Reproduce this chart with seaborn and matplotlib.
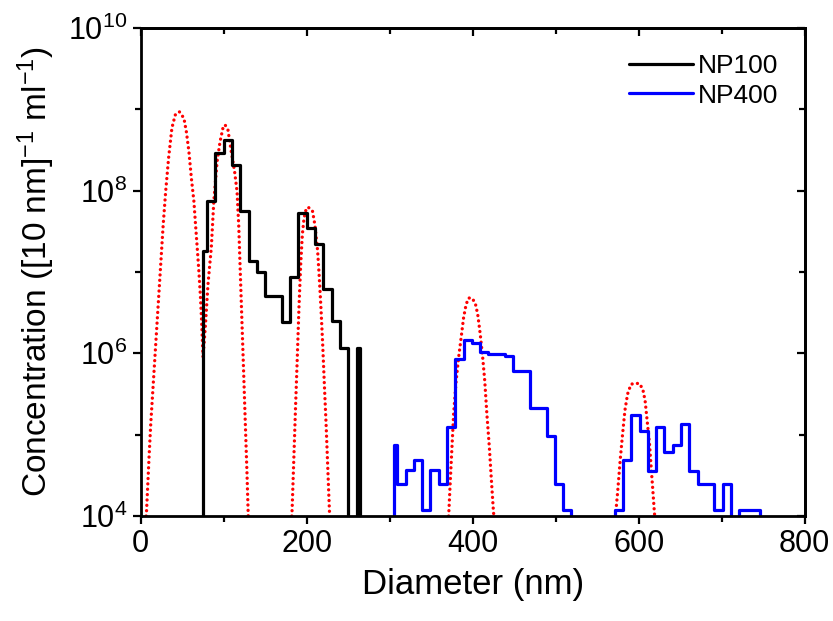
import numpy as np
import pandas as pd
import matplotlib
matplotlib.use("Agg")
import matplotlib.pyplot as plt
from matplotlib.ticker import FixedLocator, NullFormatter
import seaborn as sns

# NP100 histogram: bin edges (nm) and log10 concentration per bin (nan = empty bin)
np100_edges = [75, 80, 90, 100, 110, 120, 130, 140, 150, 170, 180, 190, 200,
               210, 220, 230, 240, 250, 260, 264]
np100_log = [7.26, 7.87, 8.46, 8.62, 8.32, 7.75, 7.14, 7.00, 6.71, 6.38, 6.94,
             7.72, 7.54, 7.35, 6.79, 6.40, 6.07, np.nan, 6.07]

# NP400 histogram
np400_edges = [305, 309, 319, 329, 339, 349, 359, 369, 379, 389, 399, 409, 419,
               439, 449, 469, 489, 499, 509, 519, 571, 581, 591, 601, 611, 621,
               631, 641, 651, 661, 671, 691, 701, 711, 721, 746]
np400_log = [4.87, 4.40, 4.56, 4.69, 4.08, 4.56, 4.40, 5.09, 5.93, 6.16, 6.13,
             6.02, 5.99, 5.97, 5.78, 5.33, 4.99, 4.40, 4.08, np.nan, 4.08, 4.69,
             5.24, 5.05, 4.55, 5.09, 4.79, 4.87, 5.13, 4.55, 4.40, 4.08, 4.40,
             np.nan, 4.08]

# red dotted reference distributions (nm, log10 conc)
ref1_d = [6.5, 7, 10, 12, 15, 18, 21, 24, 27, 30, 33.5, 37.5, 41.5, 46.5, 52, 55,
          58, 61, 64, 66, 68, 70, 72, 73.5, 75, 78, 81, 85, 88, 92, 95.5, 99,
          101.5, 105, 109, 113, 116, 118, 120, 122, 124, 126, 128, 129.5]
ref1_log = [4.0, 4.07, 4.73, 5.13, 5.62, 6.11, 6.60, 7.09, 7.58, 7.99, 8.40, 8.77,
            8.93, 8.97, 8.89, 8.72, 8.48, 8.15, 7.87, 7.58, 7.30, 7.01, 6.68, 6.35,
            5.95, 6.36, 6.85, 7.30, 7.87, 8.36, 8.60, 8.77, 8.81, 8.75, 8.48, 8.24,
            7.99, 7.58, 6.97, 6.36, 5.75, 5.13, 4.52, 4.0]
ref2_d = [182, 182.4, 184.5, 186.5, 188.6, 190.6, 192.7, 194.7, 196.7, 199.6,
          202.9, 206.9, 209.8, 213.1, 215.1, 217.1, 219.2, 221.2, 223.3, 225.3,
          227.3, 227.6]
ref2_log = [4.0, 4.09, 4.73, 5.34, 5.95, 6.56, 7.09, 7.46, 7.66, 7.79, 7.79, 7.75,
            7.58, 7.26, 6.93, 6.56, 6.11, 5.62, 5.13, 4.60, 4.07, 4.0]
ref3_d = [371, 373, 375, 377, 380, 383, 386, 389, 392, 395, 399, 403, 406, 409,
          412, 414.5, 417, 420, 422.5, 425, 425.5]
ref3_log = [4.0, 4.44, 4.85, 5.26, 5.66, 5.95, 6.19, 6.44, 6.60, 6.68, 6.68, 6.62,
            6.48, 6.24, 5.95, 5.66, 5.26, 4.85, 4.44, 4.05, 4.0]
ref4_d = [572, 574.5, 577.7, 580.6, 583.4, 586.6, 590.7, 594.7, 598.8, 600.8,
          604.9, 607.7, 610.1, 613, 615, 617, 619, 619.5]
ref4_log = [4.0, 4.28, 4.69, 5.01, 5.30, 5.50, 5.62, 5.63, 5.63, 5.63, 5.56, 5.42,
            5.18, 4.89, 4.60, 4.32, 4.03, 4.0]

x_ticks = [0, 200, 400, 600, 800]
x_minor = [100, 300, 500, 700]
y_ticks = [1e4, 1e6, 1e8, 1e10]
y_minor = [1e5, 1e7, 1e9]


def step_frame(edges, logs):
    # outline of a histogram, empty bins pushed below the axis
    conc = np.power(10.0, np.nan_to_num(np.array(logs, dtype=float), nan=3.0))
    x = np.repeat(edges, 2)
    y = np.concatenate([[1e3], np.repeat(conc, 2), [1e3]])
    return pd.DataFrame({"d": x, "c": y})


np100 = step_frame(np100_edges, np100_log)
np400 = step_frame(np400_edges, np400_log)

ref = pd.concat([
    pd.DataFrame({"d": d, "c": np.power(10.0, l), "seg": i})
    for i, (d, l) in enumerate([(ref1_d, ref1_log), (ref2_d, ref2_log),
                                (ref3_d, ref3_log), (ref4_d, ref4_log)])
])

sns.set_style("ticks")
plt.rcParams['font.family'] = ['Liberation Sans', 'DejaVu Sans']
plt.rcParams['mathtext.default'] = 'regular'
plt.rcParams['axes.linewidth'] = 2
for key in ['text.color', 'axes.labelcolor', 'axes.edgecolor', 'xtick.color', 'ytick.color']:
    plt.rcParams[key] = 'black'

fig, ax = plt.subplots(figsize=(8.33, 6.21), dpi=100)
fig.subplots_adjust(left=0.169, right=0.966, bottom=0.169, top=0.955)

sns.lineplot(data=ref, x="d", y="c", units="seg", estimator=None, sort=False,
             color="#ff0000", lw=2.4, ax=ax, legend=False,
             linestyle=(0, (0.01, 1.6)), dash_capstyle="round")
sns.lineplot(data=np100, x="d", y="c", estimator=None, sort=False,
             color="black", lw=2.3, ax=ax, label="NP100")
sns.lineplot(data=np400, x="d", y="c", estimator=None, sort=False,
             color="#0000ff", lw=2.3, ax=ax, label="NP400")

ax.set_yscale("log")
ax.set_xlim(0, 800)
ax.set_ylim(1e4, 1e10)
ax.xaxis.set_major_locator(FixedLocator(x_ticks))
ax.xaxis.set_minor_locator(FixedLocator(x_minor))
ax.yaxis.set_major_locator(FixedLocator(y_ticks))
ax.yaxis.set_minor_locator(FixedLocator(y_minor))
ax.yaxis.set_minor_formatter(NullFormatter())
ax.tick_params(which="major", direction="out", length=6, width=1.6, labelsize=22)
ax.tick_params(which="minor", direction="out", length=4, width=1.6)

# mirrored ticks pointing inward on top and right
top = ax.secondary_xaxis("top")
top.xaxis.set_major_locator(FixedLocator(x_ticks))
top.xaxis.set_minor_locator(FixedLocator(x_minor))
top.tick_params(which="major", direction="in", length=6, width=1.6, labeltop=False)
top.tick_params(which="minor", direction="in", length=4, width=1.6)
right = ax.secondary_yaxis("right")
right.yaxis.set_major_locator(FixedLocator(y_ticks))
right.yaxis.set_minor_locator(FixedLocator(y_minor))
right.yaxis.set_minor_formatter(NullFormatter())
right.tick_params(which="major", direction="in", length=6, width=1.6, labelright=False)
right.tick_params(which="minor", direction="in", length=4, width=1.6)
for sp in list(top.spines.values()) + list(right.spines.values()):
    sp.set_linewidth(2)

ax.set_xlabel("Diameter (nm)", fontsize=25, labelpad=6)
ax.set_ylabel("Concentration ([10 nm]$^{-1}$ ml$^{-1}$)", fontsize=24, labelpad=8)

ax.legend(loc="upper right", frameon=False, fontsize=19, handlelength=2.4,
          handletextpad=0.2, labelspacing=0.2, borderaxespad=0.6)

fig.savefig("out.png", dpi=100)
